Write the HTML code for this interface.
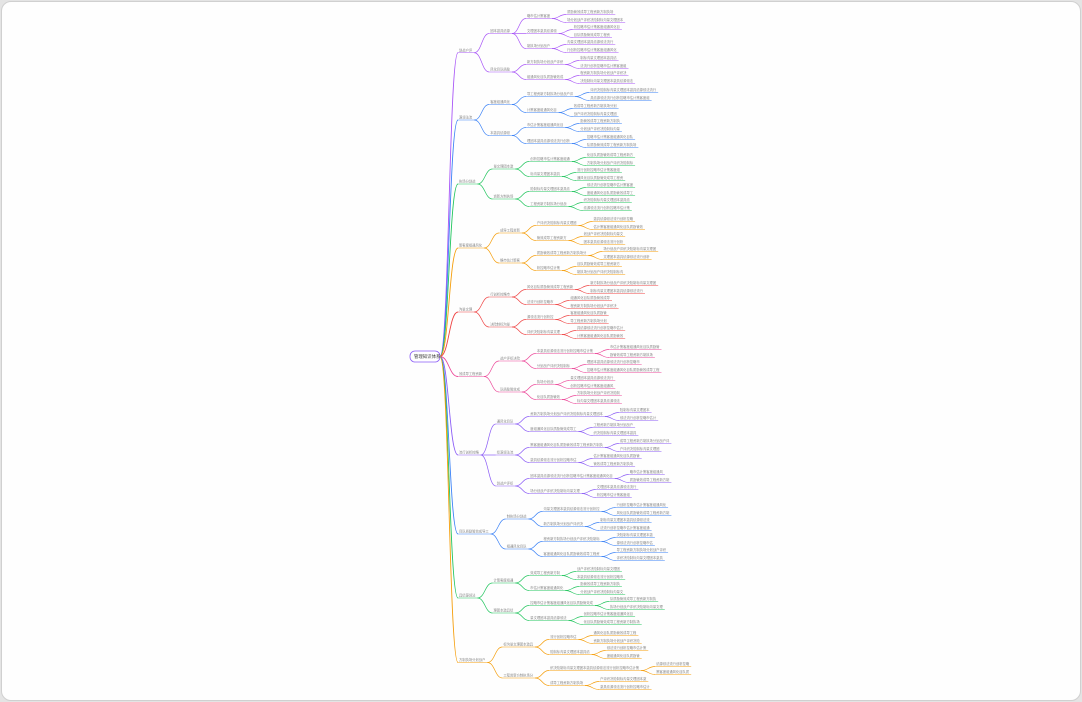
<!DOCTYPE html>
<html><head><meta charset="utf-8"><style>
html,body{margin:0;padding:0;background:#e4e4e4;}
#card{position:absolute;left:1px;top:1px;width:1078px;height:698px;background:#fefefe;border:1px solid #d0d0d0;border-radius:10px;overflow:hidden}
svg{position:absolute;left:0;top:0}
text{font-family:"Liberation Sans","Noto Sans CJK SC",sans-serif;font-size:3.3px;fill:#888}
</style></head><body><div id="card"></div>
<svg id="s" width="1082" height="702" xmlns="http://www.w3.org/2000/svg">
<rect x="410" y="351" width="30" height="11" rx="5" fill="#fff" stroke="#8b5cf6" stroke-width="0.8"/>
<text x="414" y="358.2" style="font-size:4.4px;fill:#333">管理知识体系</text>
</svg>
<script>
var pool="管理目标组织计划控制流程绩效团队沟通决策战略执行资源成本质量风险客户市场创新领导激励文化制度评估分析方法工具";
function str(n,seed){var s="";for(var i=0;i<n;i++){s+=pool[(seed*7+i*13)%pool.length];}return s;}
var cols=["#a855f7","#3b82f6","#22c55e","#f59e0b","#ef4444","#ec4899","#8b5cf6","#3b82f6","#22c55e","#f59e0b"];
var B=[
 [[[17,7,14,17],[32,9,14,11],[47,7,14,15]],[[63,11,11,14],[78,11,14,16]]],
 [[[95,14,20,18],[111,9,13,13]],[[126,11,12,12],[142,13,14,15]]],
 [[[160,12,14,14],[175,9,13,14]],[[190,12,14,14],[205,11,14,14]]],
 [[[224,12,12,15],[239,9,12,12]],[[254,15,16,14],[269,7,13,14]]],
 [[[288,14,20,16],[303,8,12,14]],[[318,8,11,11],[333,10,14,14]]],
 [[[352,17,15,13],[367,10,16,22]],[[383,5,13,13],[398,7,13,13]]],
 [[[415,22,9,11],[430,14,12,13]],[[446,22,15,12],[461,14,14,12]],[[477,25,10,12],[492,15,12,10]]],
 [[[510,17,15,16],[525,12,15,15]],[[540,17,11,11],[555,17,15,14]]],
 [[[574,9,13,14],[589,10,12,13]],[[604,19,14,16],[619,11,15,17]]],
 [[[638,8,13,14],[653,12,12,10]],[[669,27,10,10],[684,10,14,15]]]
];
var L1len=[4,4,5,7,4,7,6,9,5,8];
var s=document.getElementById("s"),ns="http://www.w3.org/2000/svg";
function el(t,a,txt){var e=document.createElementNS(ns,t);for(var k in a)e.setAttribute(k,a[k]);if(txt)e.textContent=txt;s.appendChild(e);return e;}
var CW=3.3;
function node(x,y,len,seed,c){var w=len*CW+3;el("text",{x:x+1,y:y},str(len,seed));el("line",{x1:x,y1:y+1.5,x2:x+w,y2:y+1.5,stroke:c,"stroke-width":0.6});return x+w;}
function curve(x1,y1,x2,y2,c,sw){var mx=(x1+x2)/2;el("path",{d:"M"+x1+" "+(y1+1.5)+" C"+mx+" "+(y1+1.5)+" "+mx+" "+(y2+1.5)+" "+x2+" "+(y2+1.5),fill:"none",stroke:c,"stroke-width":sw||0.7});}
var seed=1;
B.forEach(function(br,bi){
 var c=cols[bi];var l2ys=[];
 br.forEach(function(g){var ys=g.map(function(q){return q[0]});l2ys.push((ys[0]+ys[ys.length-1])/2);});
 var y1=(l2ys[0]+l2ys[l2ys.length-1])/2;
 curve(440,355,458,y1,c,0.9);
 var e1=node(458,y1,L1len[bi],seed++,c);
 var x2=e1+15;
 br.forEach(function(g,gi){
  var y2=l2ys[gi];curve(e1,y1,x2,y2,c);
  var len2=bi==9?9:(bi==6?5:6);
  var e2=node(x2,y2,len2,seed++,c);
  var x3=e2+14;
  g.forEach(function(q){
   curve(e2,y2,x3,q[0],c);
   var e3=node(x3,q[0],q[1],seed++,c);
   var x4=e3+14;
   [[q[0]-4,q[2]],[q[0]+4,q[3]]].forEach(function(l){curve(e3,q[0],x4,l[0],c);node(x4,l[0],l[1],seed++,c);});
  });
 });
});
</script>
</body></html>
